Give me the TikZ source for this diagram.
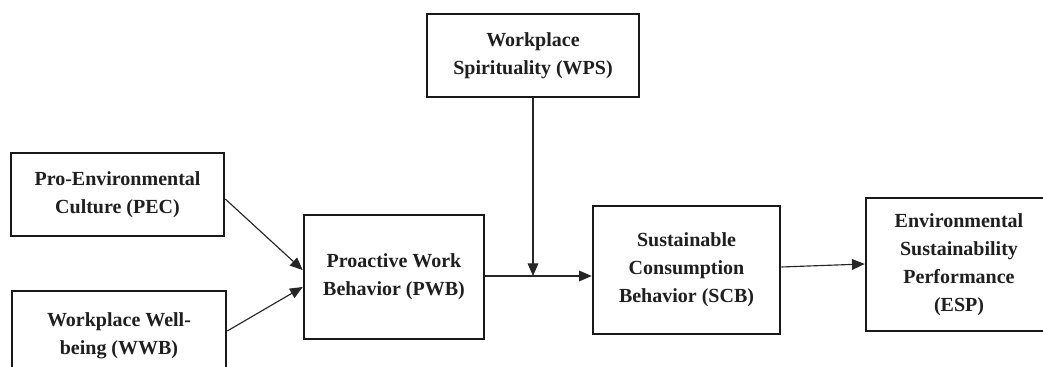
\documentclass[tikz,border=0pt]{standalone}
\usepackage{fontspec}
\setmainfont{Liberation Serif}
\usetikzlibrary{arrows.meta,calc}
\begin{document}
\begin{tikzpicture}[x=0.75pt,y=-0.75pt,
  box/.style={draw=black!90, line width=1.95pt, inner sep=0pt, align=center,
    font=\fontsize{15pt}{21pt}\selectfont\bfseries, text=black!88},
  conn/.style={draw=black!85, line width=0.85pt, -{Triangle[length=9.5pt,width=8pt]}}]
\useasboundingbox (0,0) rectangle (1043,367);
\clip (0,0) rectangle (1043,367);
\fill[white] (0,0) rectangle (1043,367);
\node[box, minimum width=159.75pt, minimum height=62.25pt] (pec) at (117.5,194.5) {Pro-Environmental\\Culture (PEC)};
\node[box, minimum width=160.5pt, minimum height=66.75pt] (wwb) at (119,335.5) {Workplace Well-\\being (WWB)};
\node[box, minimum width=135pt, minimum height=93pt] (pwb) at (394,277) {Proactive Work\\Behavior (PWB)};
\node[box, minimum width=159pt, minimum height=62.25pt] (wps) at (533,55.5) {Workplace\\Spirituality (WPS)};
\node[box, minimum width=140.25pt, minimum height=96pt] (scb) at (686.5,270) {Sustainable\\Consumption\\Behavior (SCB)};
\node[box, minimum width=139.5pt, minimum height=99.75pt] (esp) at (959,264.5) {Environmental\\Sustainability\\Performance\\(ESP)};
\draw[conn] ([yshift=-3.4pt]pec.east) -- ([yshift=5.2pt]pwb.west);
\draw[conn] ([yshift=3.4pt]wwb.east) -- ([yshift=-7.5pt]pwb.west);
\draw[conn] ([yshift=0.75pt]pwb.east) -- ([yshift=0.75pt]pwb.east -| scb.west);
\coordinate (join) at ([yshift=0.75pt]wps.south |- pwb.east);
\draw[conn] (wps.south) -- (join);
\draw[conn] ([yshift=2.25pt]scb.east) -- ([yshift=0.4pt]esp.west);
\end{tikzpicture}
\end{document}
